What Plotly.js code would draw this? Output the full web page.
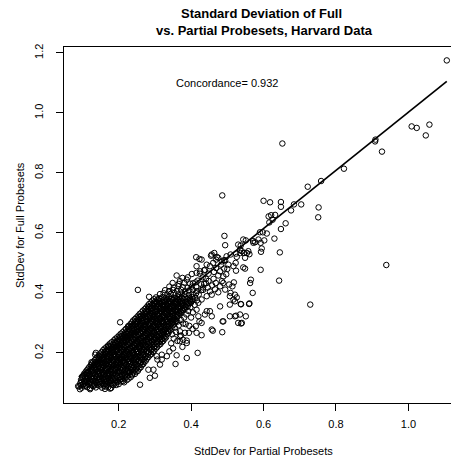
<!DOCTYPE html>
<html>
<head>
<meta charset="utf-8">
<script src="https://cdn.plot.ly/plotly-3.0.1.min.js"></script>
<style>
  html, body { margin: 0; padding: 0; background: #fff; overflow: hidden; }
  #chart { width: 462px; height: 459px; }
</style>
</head>
<body>
<div id="chart"></div>
<script>
// Standard deviations per probeset: partial (x) vs full (y) probesets.
// Dense core of the distribution, listed band by band from low to high SD.
const corePartial = [
  0.091,0.098,0.106,0.113,0.121,0.129,0.137,0.146,0.154,0.163,0.171,0.179,
  0.094,0.102,0.110,0.117,0.125,0.133,0.141,0.149,0.158,0.166,0.174,0.183,0.191,0.200,
  0.096,0.104,0.112,0.120,0.128,0.136,0.144,0.152,0.160,0.168,0.177,0.185,0.194,0.203,0.212,0.222,
  0.099,0.107,0.115,0.123,0.131,0.139,0.147,0.155,0.163,0.171,0.179,0.188,0.196,0.205,0.214,0.223,0.233,
  0.105,0.112,0.120,0.128,0.136,0.144,0.152,0.160,0.168,0.176,0.184,0.192,0.201,0.210,0.219,0.228,0.237,0.245,
  0.112,0.120,0.128,0.136,0.144,0.152,0.160,0.168,0.176,0.184,0.192,0.200,0.208,0.217,0.226,0.235,0.244,0.253,
  0.119,0.127,0.135,0.143,0.151,0.159,0.167,0.175,0.183,0.191,0.199,0.207,0.215,0.224,0.233,0.242,0.251,0.261,
  0.126,0.134,0.142,0.150,0.158,0.166,0.174,0.182,0.190,0.198,0.206,0.214,0.222,0.231,0.240,0.249,0.258,0.268,
  0.134,0.142,0.150,0.158,0.166,0.174,0.182,0.190,0.198,0.206,0.214,0.222,0.230,0.238,0.247,0.256,0.265,0.275,
  0.141,0.149,0.157,0.165,0.173,0.181,0.189,0.197,0.205,0.213,0.221,0.229,0.237,0.245,0.254,0.263,0.272,0.282,
  0.149,0.157,0.165,0.173,0.181,0.189,0.197,0.205,0.213,0.221,0.229,0.237,0.245,0.253,0.262,0.271,0.280,0.290,
  0.157,0.165,0.173,0.181,0.189,0.197,0.205,0.213,0.221,0.229,0.237,0.245,0.253,0.261,0.270,0.279,0.288,0.298,
  0.166,0.174,0.182,0.190,0.198,0.206,0.214,0.222,0.230,0.238,0.246,0.254,0.262,0.270,0.279,0.288,0.297,0.306,
  0.176,0.184,0.192,0.200,0.208,0.216,0.224,0.232,0.240,0.248,0.256,0.264,0.272,0.280,0.288,0.297,0.306,0.315,
  0.187,0.195,0.203,0.211,0.219,0.227,0.235,0.243,0.251,0.259,0.267,0.275,0.283,0.291,0.299,0.307,0.315,0.323,
  0.196,0.204,0.212,0.220,0.228,0.236,0.244,0.252,0.260,0.268,0.276,0.284,0.292,0.300,0.308,0.316,0.324,0.331,
  0.206,0.214,0.222,0.230,0.238,0.246,0.254,0.262,0.270,0.278,0.286,0.294,0.302,0.310,0.318,0.326,0.335,
  0.216,0.224,0.232,0.240,0.248,0.256,0.264,0.272,0.280,0.288,0.296,0.304,0.312,0.320,0.328,0.336,0.342,
  0.225,0.233,0.241,0.249,0.257,0.265,0.273,0.281,0.289,0.297,0.305,0.313,0.321,0.329,0.337,0.346,
  0.233,0.241,0.249,0.257,0.265,0.273,0.281,0.289,0.297,0.305,0.313,0.321,0.329,0.337,0.345,0.353,
  0.240,0.248,0.256,0.264,0.272,0.280,0.288,0.296,0.304,0.312,0.320,0.328,0.336,0.344,0.352,0.359,
  0.249,0.257,0.265,0.273,0.281,0.289,0.297,0.305,0.313,0.321,0.329,0.337,0.345,0.353,0.361,
  0.258,0.266,0.274,0.282,0.290,0.298,0.306,0.314,0.322,0.330,0.338,0.346,0.354,0.362,0.369,
  0.267,0.275,0.283,0.291,0.299,0.307,0.315,0.323,0.331,0.339,0.347,0.355,0.363,0.371,0.377,
  0.276,0.284,0.292,0.300,0.308,0.316,0.324,0.332,0.340,0.348,0.356,0.364,0.372,0.380,0.386,
  0.284,0.292,0.300,0.308,0.316,0.324,0.332,0.340,0.348,0.356,0.364,0.372,0.380,0.388,0.395,
  0.293,0.301,0.309,0.317,0.325,0.333,0.341,0.349,0.357,0.365,0.373,0.381,0.389,0.397,0.404,
  0.303,0.312,0.321,0.330,0.339,0.348,0.357,0.366,0.375,0.384,0.393,0.402,0.411,
  0.314,0.324,0.334,0.344,0.354,0.364,0.374,0.384,0.394,0.404,0.414,0.421,
  0.328,0.339,0.350,0.361,0.372,0.383,0.394,0.405,0.416,0.428,
  0.340,0.352,0.365,0.377,0.390,0.402,0.414,0.433,
  0.349,0.366,0.381,0.397,0.412,0.428,0.441
];
const coreFull = [
  0.088,0.084,0.090,0.086,0.083,0.089,0.085,0.091,0.084,0.088,0.086,0.083,
  0.099,0.096,0.101,0.097,0.100,0.095,0.099,0.102,0.096,0.098,0.101,0.095,0.099,0.096,
  0.110,0.107,0.111,0.108,0.112,0.106,0.110,0.108,0.112,0.106,0.109,0.111,0.107,0.110,0.106,0.109,
  0.121,0.118,0.122,0.119,0.117,0.123,0.120,0.118,0.121,0.124,0.119,0.117,0.122,0.120,0.118,0.121,0.119,
  0.131,0.133,0.129,0.132,0.130,0.134,0.128,0.131,0.133,0.129,0.132,0.130,0.134,0.128,0.131,0.133,0.129,0.130,
  0.142,0.140,0.144,0.141,0.139,0.143,0.141,0.145,0.140,0.142,0.144,0.139,0.143,0.141,0.139,0.144,0.142,0.140,
  0.153,0.155,0.151,0.154,0.152,0.156,0.150,0.153,0.155,0.151,0.154,0.152,0.156,0.150,0.153,0.155,0.151,0.152,
  0.165,0.162,0.166,0.163,0.167,0.161,0.164,0.166,0.162,0.165,0.163,0.167,0.161,0.164,0.166,0.162,0.165,0.163,
  0.176,0.173,0.177,0.174,0.172,0.176,0.175,0.178,0.173,0.176,0.174,0.177,0.172,0.175,0.177,0.173,0.176,0.174,
  0.186,0.188,0.184,0.187,0.189,0.185,0.188,0.186,0.183,0.187,0.189,0.185,0.188,0.184,0.187,0.189,0.185,0.186,
  0.198,0.195,0.199,0.196,0.200,0.194,0.197,0.199,0.195,0.198,0.196,0.200,0.194,0.197,0.199,0.195,0.198,0.196,
  0.209,0.206,0.210,0.207,0.205,0.209,0.208,0.211,0.206,0.209,0.207,0.210,0.205,0.208,0.210,0.206,0.209,0.207,
  0.219,0.221,0.217,0.220,0.222,0.218,0.221,0.219,0.216,0.220,0.222,0.218,0.221,0.217,0.220,0.222,0.218,0.219,
  0.231,0.228,0.232,0.229,0.233,0.227,0.230,0.232,0.228,0.231,0.229,0.233,0.227,0.230,0.232,0.228,0.231,0.229,
  0.242,0.239,0.243,0.240,0.238,0.242,0.241,0.244,0.239,0.242,0.240,0.243,0.238,0.241,0.243,0.239,0.242,0.240,
  0.252,0.254,0.250,0.253,0.255,0.251,0.254,0.252,0.249,0.253,0.255,0.251,0.254,0.250,0.253,0.255,0.251,0.252,
  0.264,0.261,0.265,0.262,0.266,0.260,0.263,0.265,0.261,0.264,0.262,0.266,0.260,0.263,0.265,0.261,0.263,
  0.275,0.272,0.276,0.273,0.271,0.275,0.274,0.277,0.272,0.275,0.273,0.276,0.271,0.274,0.276,0.272,0.275,
  0.285,0.287,0.283,0.286,0.288,0.284,0.287,0.285,0.282,0.286,0.288,0.284,0.287,0.283,0.286,0.285,
  0.297,0.294,0.298,0.295,0.299,0.293,0.296,0.298,0.294,0.297,0.295,0.299,0.293,0.296,0.298,0.295,
  0.308,0.305,0.309,0.306,0.304,0.308,0.307,0.310,0.305,0.308,0.306,0.309,0.304,0.307,0.309,0.306,
  0.318,0.320,0.316,0.319,0.321,0.317,0.320,0.318,0.315,0.319,0.321,0.317,0.320,0.316,0.319,
  0.330,0.327,0.331,0.328,0.332,0.326,0.329,0.331,0.327,0.330,0.328,0.332,0.326,0.329,0.331,
  0.341,0.338,0.342,0.339,0.337,0.341,0.340,0.343,0.338,0.341,0.339,0.342,0.337,0.340,0.342,
  0.351,0.353,0.349,0.352,0.354,0.350,0.353,0.351,0.348,0.352,0.354,0.350,0.353,0.349,0.352,
  0.363,0.360,0.364,0.361,0.365,0.359,0.362,0.364,0.360,0.363,0.361,0.365,0.359,0.362,0.364,
  0.374,0.371,0.375,0.372,0.370,0.374,0.373,0.376,0.371,0.374,0.372,0.375,0.370,0.373,0.375,
  0.385,0.382,0.386,0.383,0.387,0.381,0.384,0.386,0.382,0.385,0.383,0.387,0.384,
  0.396,0.399,0.394,0.397,0.400,0.395,0.398,0.396,0.393,0.397,0.399,0.395,
  0.409,0.406,0.410,0.407,0.411,0.405,0.408,0.410,0.406,0.409,
  0.421,0.418,0.422,0.419,0.417,0.421,0.420,0.418,
  0.433,0.430,0.434,0.431,0.435,0.429,0.432
];

// Further probesets packed between the core bands.
const packPartial = [
  0.095,0.103,0.110,0.118,0.126,0.134,0.142,0.150,0.159,0.167,0.176,0.185,0.193,
  0.097,0.106,0.114,0.121,0.129,0.137,0.145,0.153,0.162,0.170,0.179,0.188,0.197,0.206,0.215,
  0.100,0.108,0.116,0.124,0.132,0.140,0.148,0.156,0.164,0.172,0.181,0.190,0.199,0.208,0.217,0.227,
  0.103,0.111,0.119,0.127,0.135,0.143,0.151,0.159,0.167,0.175,0.183,0.192,0.200,0.209,0.218,0.227,0.237,
  0.109,0.116,0.124,0.132,0.140,0.148,0.156,0.164,0.172,0.180,0.188,0.196,0.205,0.214,0.223,0.232,0.241,0.249,
  0.116,0.124,0.132,0.140,0.148,0.156,0.164,0.172,0.180,0.188,0.196,0.204,0.212,0.221,0.230,0.239,0.248,0.257,
  0.123,0.131,0.139,0.147,0.155,0.163,0.171,0.179,0.187,0.195,0.203,0.211,0.219,0.228,0.237,0.246,0.255,0.264,
  0.130,0.138,0.146,0.154,0.162,0.170,0.178,0.186,0.194,0.202,0.210,0.218,0.226,0.235,0.244,0.253,0.262,0.271,
  0.138,0.146,0.154,0.162,0.170,0.178,0.186,0.194,0.202,0.210,0.218,0.226,0.234,0.242,0.251,0.260,0.269,0.278,
  0.145,0.153,0.161,0.169,0.177,0.185,0.193,0.201,0.209,0.217,0.225,0.233,0.241,0.249,0.258,0.267,0.276,0.286,
  0.153,0.161,0.169,0.177,0.185,0.193,0.201,0.209,0.217,0.225,0.233,0.241,0.249,0.257,0.266,0.275,0.284,0.294,
  0.161,0.169,0.177,0.185,0.193,0.201,0.209,0.217,0.225,0.233,0.241,0.249,0.257,0.265,0.274,0.283,0.292,0.302,
  0.171,0.179,0.187,0.195,0.203,0.211,0.219,0.227,0.235,0.243,0.251,0.259,0.267,0.275,0.284,0.293,0.302,0.310,
  0.181,0.189,0.197,0.205,0.213,0.221,0.229,0.237,0.245,0.253,0.261,0.269,0.277,0.285,0.293,0.302,0.311,0.319,
  0.191,0.199,0.207,0.215,0.223,0.231,0.239,0.247,0.255,0.263,0.271,0.279,0.287,0.295,0.303,0.311,0.319,0.327,
  0.201,0.209,0.217,0.225,0.233,0.241,0.249,0.257,0.265,0.273,0.281,0.289,0.297,0.305,0.313,0.321,0.329,
  0.211,0.219,0.227,0.235,0.243,0.251,0.259,0.267,0.275,0.283,0.291,0.299,0.307,0.315,0.323,0.331,0.338,
  0.220,0.228,0.236,0.244,0.252,0.260,0.268,0.276,0.284,0.292,0.300,0.308,0.316,0.324,0.332,0.340,
  0.229,0.237,0.245,0.253,0.261,0.269,0.277,0.285,0.293,0.301,0.309,0.317,0.325,0.333,0.341,0.349,
  0.237,0.245,0.253,0.261,0.269,0.277,0.285,0.293,0.301,0.309,0.317,0.325,0.333,0.341,0.349,0.356,
  0.245,0.253,0.261,0.269,0.277,0.285,0.293,0.301,0.309,0.317,0.325,0.333,0.341,0.349,0.357,
  0.254,0.262,0.270,0.278,0.286,0.294,0.302,0.310,0.318,0.326,0.334,0.342,0.350,0.358,0.365,
  0.263,0.271,0.279,0.287,0.295,0.303,0.311,0.319,0.327,0.335,0.343,0.351,0.359,0.367,0.373,
  0.272,0.280,0.288,0.296,0.304,0.312,0.320,0.328,0.336,0.344,0.352,0.360,0.368,0.376,0.382,
  0.280,0.288,0.296,0.304,0.312,0.320,0.328,0.336,0.344,0.352,0.360,0.368,0.376,0.384,0.391,
  0.289,0.297,0.305,0.313,0.321,0.329,0.337,0.345,0.353,0.361,0.369,0.377,0.385,0.393,0.400,
  0.298,0.307,0.316,0.325,0.334,0.343,0.352,0.361,0.370,0.379,0.388,0.397,0.406
];
const packFull = [
  0.092,0.094,0.091,0.095,0.093,0.092,0.094,0.096,0.091,0.093,0.095,0.092,0.093,
  0.104,0.103,0.105,0.102,0.106,0.104,0.103,0.105,0.104,0.102,0.106,0.104,0.103,0.105,0.102,
  0.115,0.114,0.116,0.113,0.115,0.117,0.114,0.116,0.113,0.115,0.117,0.114,0.116,0.113,0.115,0.114,
  0.126,0.125,0.127,0.124,0.126,0.128,0.125,0.127,0.124,0.126,0.128,0.125,0.127,0.124,0.126,0.127,0.125,
  0.137,0.136,0.138,0.135,0.137,0.139,0.136,0.138,0.135,0.137,0.139,0.136,0.138,0.135,0.137,0.138,0.136,0.137,
  0.148,0.147,0.149,0.146,0.148,0.150,0.147,0.149,0.146,0.148,0.150,0.147,0.149,0.146,0.148,0.149,0.147,0.148,
  0.159,0.158,0.160,0.157,0.159,0.161,0.158,0.160,0.157,0.159,0.161,0.158,0.160,0.157,0.159,0.160,0.158,0.159,
  0.170,0.169,0.171,0.168,0.170,0.172,0.169,0.171,0.168,0.170,0.172,0.169,0.171,0.168,0.170,0.171,0.169,0.170,
  0.181,0.180,0.182,0.179,0.181,0.183,0.180,0.182,0.179,0.181,0.183,0.180,0.182,0.179,0.181,0.182,0.180,0.181,
  0.192,0.191,0.193,0.190,0.192,0.194,0.191,0.193,0.190,0.192,0.194,0.191,0.193,0.190,0.192,0.193,0.191,0.192,
  0.203,0.202,0.204,0.201,0.203,0.205,0.202,0.204,0.201,0.203,0.205,0.202,0.204,0.201,0.203,0.204,0.202,0.203,
  0.214,0.213,0.215,0.212,0.214,0.216,0.213,0.215,0.212,0.214,0.216,0.213,0.215,0.212,0.214,0.215,0.213,0.214,
  0.225,0.224,0.226,0.223,0.225,0.227,0.224,0.226,0.223,0.225,0.227,0.224,0.226,0.223,0.225,0.226,0.224,0.225,
  0.236,0.235,0.237,0.234,0.236,0.238,0.235,0.237,0.234,0.236,0.238,0.235,0.237,0.234,0.236,0.237,0.235,0.236,
  0.247,0.246,0.248,0.245,0.247,0.249,0.246,0.248,0.245,0.247,0.249,0.246,0.248,0.245,0.247,0.248,0.246,0.247,
  0.258,0.257,0.259,0.256,0.258,0.260,0.257,0.259,0.256,0.258,0.260,0.257,0.259,0.256,0.258,0.259,0.257,
  0.269,0.268,0.270,0.267,0.269,0.271,0.268,0.270,0.267,0.269,0.271,0.268,0.270,0.267,0.269,0.270,0.268,
  0.280,0.279,0.281,0.278,0.280,0.282,0.279,0.281,0.278,0.280,0.282,0.279,0.281,0.278,0.280,0.281,
  0.291,0.290,0.292,0.289,0.291,0.293,0.290,0.292,0.289,0.291,0.293,0.290,0.292,0.289,0.291,0.292,
  0.302,0.301,0.303,0.300,0.302,0.304,0.301,0.303,0.300,0.302,0.304,0.301,0.303,0.300,0.302,0.303,
  0.313,0.312,0.314,0.311,0.313,0.315,0.312,0.314,0.311,0.313,0.315,0.312,0.314,0.311,0.313,
  0.324,0.323,0.325,0.322,0.324,0.326,0.323,0.325,0.322,0.324,0.326,0.323,0.325,0.322,0.324,
  0.335,0.334,0.336,0.333,0.335,0.337,0.334,0.336,0.333,0.335,0.337,0.334,0.336,0.333,0.335,
  0.346,0.345,0.347,0.344,0.346,0.348,0.345,0.347,0.344,0.346,0.348,0.345,0.347,0.344,0.346,
  0.357,0.356,0.358,0.355,0.357,0.359,0.356,0.358,0.355,0.357,0.359,0.356,0.358,0.355,0.357,
  0.368,0.367,0.369,0.366,0.368,0.370,0.367,0.369,0.366,0.368,0.370,0.367,0.369,0.366,0.368,
  0.379,0.378,0.380,0.377,0.379,0.381,0.378,0.380,0.377,0.379,0.381,0.378,0.380
];

// Scattered probesets around the core.
const spreadPartial = [
  0.088,0.093,0.121,0.162,0.176,0.125,0.135,0.137,0.171,0.204,0.226,0.213,0.253,0.284,
  0.259,0.286,0.296,0.300,0.282,0.314,0.307,0.305,0.319,0.333,
  0.360,0.376,0.391,0.369,0.388,
  0.414,0.423,0.415,0.425,0.443,0.457,0.464,0.471,0.485,0.494,0.498,0.509,0.524,
  0.429,0.455,0.469,0.475,0.491,0.483,0.503,0.461,0.452,0.469,0.491,0.500,0.517,0.523,
  0.544,0.549,0.524,0.436,0.448,0.475,0.489,0.415,0.402,
  0.485,0.505,0.514,0.521,0.509,0.494,0.480,0.452,0.457,0.443,0.429,0.420,0.480,0.507,
  0.521,0.452,0.457,0.438,0.489,0.507,0.524,0.530,0.457,0.429,0.415,0.369,0.378,0.388,
  0.369,0.376,
  0.405,0.418,0.432,0.441,0.448,0.436,0.462,0.446,0.458,0.468,0.433,0.466,0.475,0.424,
  0.438,0.463,0.480,0.497,
  0.530,0.544,0.551,0.535,0.546,0.558,0.572,0.586,0.537,0.549,0.526,0.536,0.561,
  0.415,0.413,0.429,0.443,0.460,0.486,0.487,0.507,0.517,0.535,0.521,0.551,0.560,0.540,
  0.570,0.565,0.563,0.489,0.518,0.526,0.537,
  0.418,0.388,0.360,0.357,0.319,0.388,0.369,0.383,0.394,0.420,0.423,
  0.540,0.538,0.561,
  0.345,0.352,0.348,0.358,0.355,0.366,0.362,0.372,0.378,0.381,0.387,0.392,0.398,0.400,
  0.405,0.395,0.404,0.410,0.416,0.350,0.340,0.362,0.372,0.385
];
const spreadFull = [
  0.089,0.079,0.079,0.080,0.081,0.169,0.194,0.200,0.222,0.302,0.289,0.255,0.410,0.387,
  0.094,0.117,0.144,0.124,0.144,0.161,0.178,0.189,0.194,0.189,
  0.458,0.450,0.452,0.439,0.444,
  0.519,0.513,0.489,0.472,0.494,0.528,0.533,0.520,0.505,0.508,0.522,0.528,0.531,
  0.511,0.524,0.511,0.517,0.509,0.494,0.494,0.500,0.489,0.483,0.481,0.480,0.489,0.500,
  0.485,0.481,0.474,0.475,0.464,0.458,0.455,0.467,0.463,
  0.439,0.428,0.422,0.394,0.400,0.411,0.422,0.405,0.394,0.389,0.378,0.367,0.355,0.361,
  0.372,0.339,0.322,0.328,0.305,0.322,0.324,0.300,0.278,0.259,0.267,0.255,0.244,0.233,
  0.239,0.220,
  0.432,0.441,0.452,0.447,0.440,0.430,0.447,0.418,0.425,0.433,0.410,0.412,0.402,0.464,
  0.477,0.470,0.472,0.462,
  0.561,0.578,0.575,0.544,0.533,0.539,0.567,0.578,0.558,0.517,0.520,0.533,0.529,
  0.344,0.289,0.300,0.339,0.274,0.269,0.305,0.389,0.378,0.328,0.322,0.322,0.363,0.300,
  0.400,0.444,0.433,0.433,0.435,0.385,0.363,
  0.200,0.183,0.192,0.163,0.178,0.241,0.272,0.267,0.267,0.322,0.305,
  0.539,0.362,0.365,
  0.232,0.248,0.262,0.270,0.284,0.292,0.304,0.310,0.298,0.318,0.328,0.340,0.352,0.318,
  0.335,0.290,0.280,0.360,0.375,0.215,0.205,0.240,0.258,0.296
];

// High-variance probesets in the upper tail.
const tailPartial = [
  1.106,1.009,1.023,1.058,1.048,0.909,0.908,0.927,0.652,0.822,0.759,0.722,
  0.600,0.618,0.648,0.648,0.684,0.704,0.676,0.752,0.751,0.614,0.621,0.632,
  0.625,0.616,0.661,0.648,0.590,0.598,0.609,0.630,0.571,0.577,0.592,0.602,
  0.595,0.593,0.645,0.554,0.592,0.643,0.939,0.729,0.538,0.486,0.492,0.494
];
const tailFull = [
  1.175,0.955,0.950,0.961,0.925,0.911,0.905,0.871,0.898,0.814,0.773,0.754,
  0.707,0.702,0.703,0.687,0.695,0.695,0.675,0.685,0.652,0.655,0.659,0.660,
  0.644,0.635,0.632,0.613,0.602,0.602,0.598,0.581,0.573,0.569,0.567,0.575,
  0.548,0.537,0.535,0.533,0.477,0.441,0.493,0.361,0.298,0.725,0.590,0.559
];

// Fitted line of full on partial SD.
const fitPartial = [0.090, 1.106];
const fitFull = [0.120, 1.105];

const xTickVals = [0.2, 0.4, 0.6, 0.8, 1.0];
const xTickText = ['0.2', '0.4', '0.6', '0.8', '1.0'];
const yTickVals = [0.2, 0.4, 0.6, 0.8, 1.0, 1.2];
const yTickText = ['0.2', '0.4', '0.6', '0.8', '1.0', '1.2'];

const titleLines = ['Standard Deviation of Full', 'vs. Partial Probesets, Harvard Data'];
const concordanceLabel = 'Concordance= 0.932';

const FONT = '"Liberation Sans", Arial, Helvetica, sans-serif';

const partialSD = corePartial.concat(packPartial, spreadPartial, tailPartial);
const fullSD = coreFull.concat(packFull, spreadFull, tailFull);

const points = {
  type: 'scatter',
  mode: 'markers',
  x: partialSD,
  y: fullSD,
  marker: {
    symbol: 'circle-open',
    size: 5.5,
    color: '#000',
    line: { width: 1, color: '#000' }
  },
  hoverinfo: 'skip'
};

const fit = {
  type: 'scatter',
  mode: 'lines',
  x: fitPartial,
  y: fitFull,
  line: { color: '#000', width: 1.7 },
  hoverinfo: 'skip'
};

const axisCommon = {
  ticks: 'outside',
  ticklen: 7,
  tickwidth: 1,
  tickcolor: '#000',
  showline: true,
  mirror: true,
  linecolor: '#000',
  linewidth: 1,
  showgrid: false,
  zeroline: false,
  fixedrange: true,
  tickfont: { family: FONT, size: 11, color: '#000' }
};

const titleFont = { family: FONT, size: 13, color: '#000', weight: 'bold' };
const labelFont = { family: FONT, size: 11, color: '#000' };

const layout = {
  width: 462,
  height: 459,
  margin: { l: 64, r: 0, t: 47, b: 56, pad: 0 },
  paper_bgcolor: '#fff',
  plot_bgcolor: '#fff',
  showlegend: false,
  font: labelFont,
  xaxis: Object.assign({}, axisCommon, {
    range: [0.049, 1.148],
    tickmode: 'array',
    tickvals: xTickVals,
    ticktext: xTickText,
    ticklabelstandoff: 4
  }),
  yaxis: Object.assign({}, axisCommon, {
    range: [0.033, 1.2197],
    tickmode: 'array',
    tickvals: yTickVals,
    ticktext: yTickText,
    tickangle: -90,
    ticklabelstandoff: 9
  }),
  annotations: [
    {
      text: titleLines[0], x: 0.5, y: 1, xref: 'paper', yref: 'paper',
      showarrow: false, xanchor: 'center', yanchor: 'middle', xshift: -2, yshift: 34,
      font: titleFont
    },
    {
      text: titleLines[1], x: 0.5, y: 1, xref: 'paper', yref: 'paper',
      showarrow: false, xanchor: 'center', yanchor: 'middle', xshift: 1.5, yshift: 17,
      font: titleFont
    },
    {
      text: concordanceLabel, x: 0.5, y: 1.1, xref: 'x', yref: 'y',
      showarrow: false, xanchor: 'center', yanchor: 'middle',
      font: labelFont
    },
    {
      text: 'StdDev for Partial Probesets', x: 0.5, y: 0, xref: 'paper', yref: 'paper',
      showarrow: false, xanchor: 'center', yanchor: 'middle', yshift: -48,
      font: labelFont
    },
    {
      text: 'StdDev for Full Probesets', x: 0, y: 0.5, xref: 'paper', yref: 'paper',
      showarrow: false, xanchor: 'center', yanchor: 'middle', xshift: -44, textangle: -90,
      font: labelFont
    }
  ]
};

Plotly.newPlot('chart', [points, fit], layout, { staticPlot: true, displayModeBar: false });
</script>
</body>
</html>
